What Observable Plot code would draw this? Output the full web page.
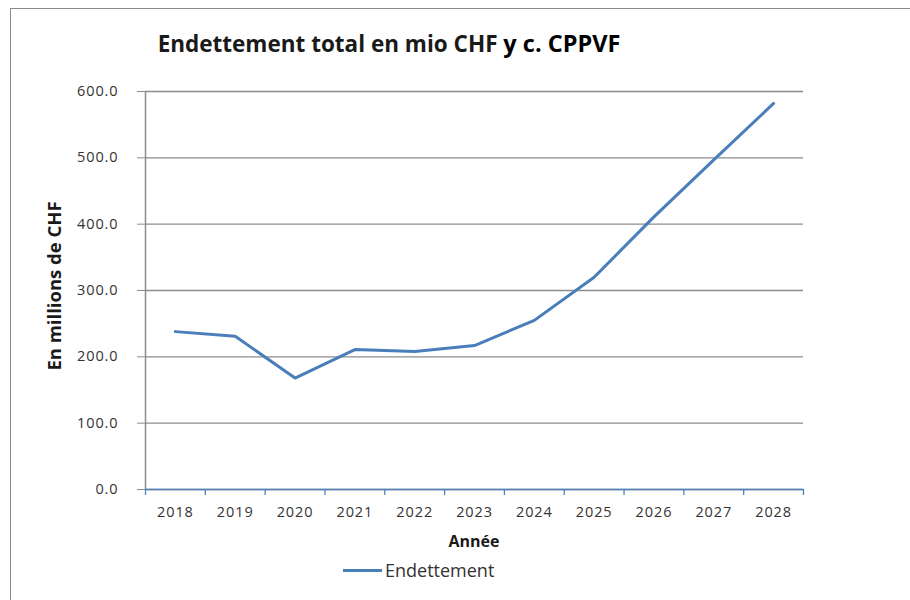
<!DOCTYPE html>
<html>
<head>
<meta charset="utf-8">
<script src="https://cdn.jsdelivr.net/npm/d3@7"></script>
<script src="https://cdn.jsdelivr.net/npm/@observablehq/plot@0.6"></script>
<style>
  body { margin: 0; background: #fff; font-family: "Open Sans", sans-serif; }
  #wrap { position: relative; width: 910px; height: 600px; overflow: hidden; }
  #border { position: absolute; left: 10px; top: 8px; width: 940px; height: 640px; border: 1px solid #8c8c8c; box-sizing: border-box; }
  #chart { position: absolute; left: 0; top: 0; }
  #title { position: absolute; left: 0; width: 778px; top: 27px; text-align: center; font-weight: bold; font-size: 22.5px; color: #1a1a1a; white-space: nowrap; }
  #title .b { font-size: 23.5px; color: #000; }
  #ylabel { position: absolute; left: 53px; top: 286px; transform: translate(-50%, -50%) rotate(-90deg); font-weight: bold; font-size: 18.5px; color: #1a1a1a; white-space: nowrap; }
  #xlabel { position: absolute; left: 474px; top: 541px; transform: translate(-50%, -50%); font-weight: bold; font-size: 16px; color: #1a1a1a; }
  #legend { position: absolute; left: 343px; top: 570px; transform: translateY(-50%); display: flex; align-items: center; font-size: 18px; color: #333; }
  #legend .sw { width: 39px; height: 3px; background: #4a7ebb; margin-right: 3px; }
  #chart svg text { letter-spacing: 0.9px; }
</style>
</head>
<body>
<div id="wrap">
  <div id="border"></div>
  <div id="chart"></div>
  <div id="title">Endettement total en mio CHF <span class="b">y c. CPPVF</span></div>
  <div id="ylabel">En millions de CHF</div>
  <div id="xlabel">Année</div>
  <div id="legend"><div class="sw"></div><span>Endettement</span></div>
</div>
<script>
const years = [2018, 2019, 2020, 2021, 2022, 2023, 2024, 2025, 2026, 2027, 2028];
const values = [238, 231, 168, 211, 208, 217, 255, 320, 411, 497, 582];
const yTicks = [0, 100, 200, 300, 400, 500, 600];

const data = years.map((y, i) => ({year: y, value: values[i]}));
const xBounds = [...years.map(y => y - 0.5), years[years.length - 1] + 0.5];

const chart = Plot.plot({
  width: 910,
  height: 600,
  marginLeft: 145,
  marginRight: 107,
  marginTop: 91,
  marginBottom: 111,
  style: {fontFamily: "Open Sans, sans-serif", fontSize: "14.5px", color: "#333", background: "transparent"},
  x: {type: "linear", domain: [xBounds[0], xBounds[xBounds.length - 1]]},
  y: {domain: [0, 600]},
  marks: [
    Plot.gridY(yTicks, {stroke: "#8c8c8c", strokeOpacity: 1, strokeWidth: 1.3}),
    Plot.axisY(yTicks, {tickSize: 8, tickPadding: 19, tickFormat: d3.format(".1f"), stroke: "#8c8c8c", fill: "#333", label: null}),
    Plot.ruleX([xBounds[0]], {stroke: "#8c8c8c", strokeWidth: 1.5}),
    Plot.axisX(xBounds, {tickSize: 6, tickFormat: () => "", stroke: "#4f81bd", strokeWidth: 1.3, label: null}),
    Plot.axisX(years, {tickSize: 0, tickPadding: 17, tickFormat: d => String(d), fill: "#333", label: null}),
    Plot.ruleY([0], {stroke: "#4f81bd", strokeWidth: 1.5}),
    Plot.line(data, {x: "year", y: "value", stroke: "#4a7ebb", strokeWidth: 3})
  ]
});
document.getElementById("chart").appendChild(chart);
</script>
</body>
</html>
